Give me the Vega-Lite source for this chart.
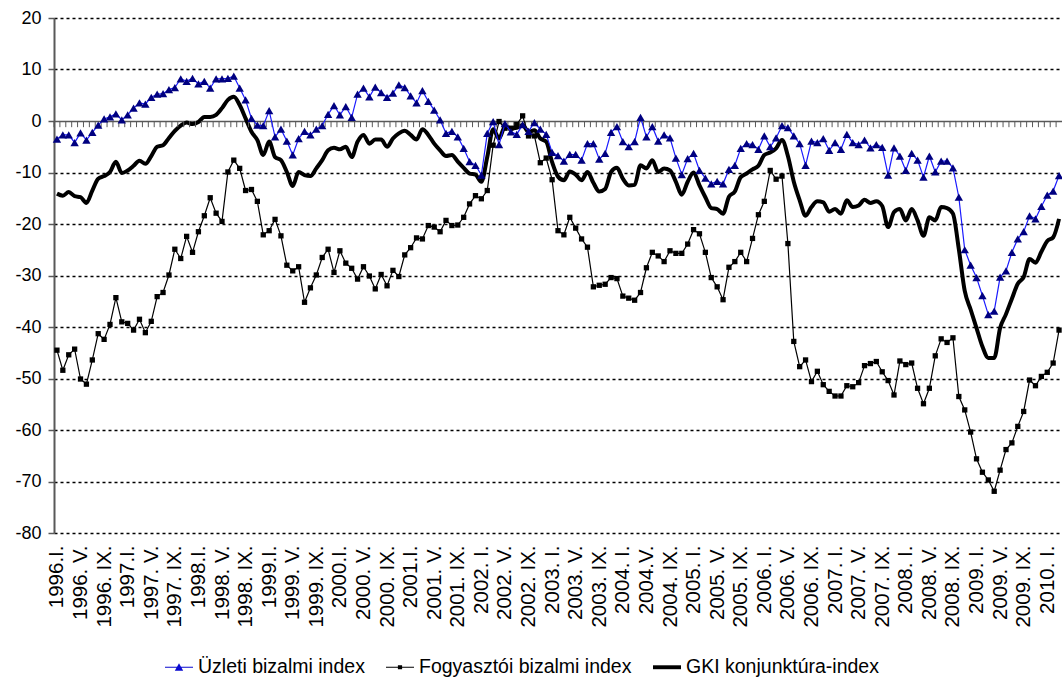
{
  "$schema": "https://vega.github.io/schema/vega-lite/v6.json",
  "width": 1008,
  "height": 515,
  "autosize": {"type": "none"},
  "padding": {"left": 54, "top": 18, "right": 0, "bottom": 149},
  "background": "white",
  "config": {
    "view": {"stroke": null},
    "font": "Liberation Sans",
    "axisY": {"domainColor": "#595959", "domainWidth": 2, "tickColor": "#595959", "tickSize": 6, "tickWidth": 1.5, "labelFont": "Liberation Sans", "labelFontSize": 18, "labelColor": "black", "labelPadding": 7, "title": null, "labelOverlap": false},
    "axisX": {"ticks": false, "tickSize": 0, "domain": false, "grid": false, "labelAngle": -90, "labelFont": "Liberation Sans", "labelFontSize": 20.5, "labelColor": "black", "labelPadding": 12, "labelOverlap": false, "labelBound": false, "title": null}
  },
  "data": {"values": [
    {"d":"1996.I.","u":-3.5,"f":-44.5,"g":-14.1},
    {"d":"1996. II.","u":-2.7,"f":-48.4,"g":-14.5},
    {"d":"1996. III.","u":-2.7,"f":-45.4,"g":-13.8},
    {"d":"1996. IV.","u":-4.2,"f":-44.3,"g":-14.6},
    {"d":"1996. V.","u":-2.3,"f":-50.1,"g":-14.8},
    {"d":"1996. VI.","u":-3.7,"f":-51.1,"g":-15.9},
    {"d":"1996. VII.","u":-2.2,"f":-46.4,"g":-13.5},
    {"d":"1996. VIII.","u":-0.8,"f":-41.3,"g":-11.2},
    {"d":"1996. IX.","u":0.4,"f":-42.4,"g":-10.7},
    {"d":"1996. X.","u":0.8,"f":-39.5,"g":-9.9},
    {"d":"1996. XI.","u":1.4,"f":-34.3,"g":-7.9},
    {"d":"1996. XII.","u":0.2,"f":-39.0,"g":-10.1},
    {"d":"1997.I.","u":1.2,"f":-39.3,"g":-9.6},
    {"d":"1997. II.","u":2.5,"f":-40.6,"g":-8.7},
    {"d":"1997. III.","u":3.5,"f":-38.5,"g":-7.7},
    {"d":"1997. IV.","u":3.3,"f":-41.1,"g":-8.3},
    {"d":"1997. V.","u":4.6,"f":-38.9,"g":-6.8},
    {"d":"1997. VI.","u":5.2,"f":-34.1,"g":-5.0},
    {"d":"1997. VII.","u":5.3,"f":-33.3,"g":-4.7},
    {"d":"1997. VIII.","u":6.1,"f":-29.9,"g":-3.3},
    {"d":"1997. IX.","u":6.5,"f":-24.9,"g":-1.9},
    {"d":"1997. X.","u":8.2,"f":-26.7,"g":-0.9},
    {"d":"1997. XI.","u":7.7,"f":-22.4,"g":-0.3},
    {"d":"1997. XII.","u":8.3,"f":-25.5,"g":-0.6},
    {"d":"1998.I.","u":7.2,"f":-21.5,"g":-0.2},
    {"d":"1998. II.","u":7.7,"f":-18.4,"g":0.8},
    {"d":"1998. III.","u":6.4,"f":-14.9,"g":0.8},
    {"d":"1998. IV.","u":8.2,"f":-17.9,"g":1.2},
    {"d":"1998. V.","u":8.2,"f":-19.5,"g":2.5},
    {"d":"1998. VI.","u":8.3,"f":-9.9,"g":4.1},
    {"d":"1998. VII.","u":8.7,"f":-7.6,"g":4.7},
    {"d":"1998. VIII.","u":6.4,"f":-9.2,"g":3.1},
    {"d":"1998. IX.","u":4.1,"f":-13.5,"g":0.5},
    {"d":"1998. X.","u":0.5,"f":-13.3,"g":-2.1},
    {"d":"1998. XI.","u":-0.8,"f":-15.6,"g":-3.7},
    {"d":"1998. XII.","u":-0.9,"f":-22.1,"g":-6.6},
    {"d":"1999.I.","u":2.0,"f":-21.3,"g":-4.0},
    {"d":"1999. II.","u":-3.1,"f":-19.1,"g":-7.0},
    {"d":"1999. III.","u":-1.6,"f":-22.3,"g":-7.6},
    {"d":"1999. IV.","u":-3.9,"f":-28.0,"g":-9.9},
    {"d":"1999. V.","u":-6.6,"f":-29.1,"g":-12.6},
    {"d":"1999. VI.","u":-3.4,"f":-28.3,"g":-9.9},
    {"d":"1999. VII.","u":-2.0,"f":-35.2,"g":-10.5},
    {"d":"1999. VIII.","u":-2.7,"f":-32.4,"g":-10.7},
    {"d":"1999. IX.","u":-1.6,"f":-29.9,"g":-9.2},
    {"d":"1999. X.","u":-0.9,"f":-26.5,"g":-7.6},
    {"d":"1999. XI.","u":1.3,"f":-24.9,"g":-5.7},
    {"d":"1999. XII.","u":3.0,"f":-29.4,"g":-5.2},
    {"d":"2000.I.","u":1.2,"f":-25.2,"g":-5.5},
    {"d":"2000. II.","u":2.8,"f":-27.6,"g":-5.0},
    {"d":"2000. III.","u":0.7,"f":-28.6,"g":-7.0},
    {"d":"2000. IV.","u":5.2,"f":-30.7,"g":-4.0},
    {"d":"2000. V.","u":6.4,"f":-28.3,"g":-2.7},
    {"d":"2000. VI.","u":4.7,"f":-30.1,"g":-4.4},
    {"d":"2000. VII.","u":6.6,"f":-32.6,"g":-3.6},
    {"d":"2000. VIII.","u":5.5,"f":-29.8,"g":-3.6},
    {"d":"2000. IX.","u":4.6,"f":-32.0,"g":-5.0},
    {"d":"2000. X.","u":5.4,"f":-29.0,"g":-3.4},
    {"d":"2000. XI.","u":7.0,"f":-30.2,"g":-2.4},
    {"d":"2000. XII.","u":6.5,"f":-26.0,"g":-1.9},
    {"d":"2001.I.","u":4.9,"f":-24.6,"g":-2.7},
    {"d":"2001. II.","u":3.5,"f":-22.7,"g":-3.6},
    {"d":"2001. III.","u":5.9,"f":-22.9,"g":-1.6},
    {"d":"2001. IV.","u":3.8,"f":-20.3,"g":-2.7},
    {"d":"2001. V.","u":2.1,"f":-20.6,"g":-4.4},
    {"d":"2001. VI.","u":0.2,"f":-21.5,"g":-5.7},
    {"d":"2001. VII.","u":-2.4,"f":-19.3,"g":-6.8},
    {"d":"2001. VIII.","u":-2.0,"f":-20.3,"g":-6.6},
    {"d":"2001. IX.","u":-3.1,"f":-20.2,"g":-7.9},
    {"d":"2001. X.","u":-5.3,"f":-18.7,"g":-9.1},
    {"d":"2001. XI.","u":-7.9,"f":-16.1,"g":-10.2},
    {"d":"2001. XII.","u":-8.6,"f":-14.5,"g":-10.4},
    {"d":"2002. I.","u":-10.5,"f":-15.1,"g":-11.8},
    {"d":"2002. II.","u":-2.4,"f":-13.5,"g":-7.0},
    {"d":"2002. III.","u":-0.1,"f":-4.7,"g":-1.6},
    {"d":"2002. IV.","u":-4.6,"f":-0.1,"g":-3.4},
    {"d":"2002. V.","u":-0.5,"f":-1.4,"g":-1.1},
    {"d":"2002. VI.","u":-2.1,"f":-1.4,"g":-1.4},
    {"d":"2002. VII.","u":-2.6,"f":-0.7,"g":-1.3},
    {"d":"2002. VIII.","u":-0.7,"f":1.0,"g":-0.8},
    {"d":"2002. IX.","u":-2.0,"f":-2.9,"g":-2.1},
    {"d":"2002. X.","u":-0.3,"f":-2.9,"g":-1.8},
    {"d":"2002. XI.","u":-1.6,"f":-8.1,"g":-3.4},
    {"d":"2002. XII.","u":-2.6,"f":-7.2,"g":-4.0},
    {"d":"2003. I.","u":-6.1,"f":-11.4,"g":-8.0},
    {"d":"2003. II.","u":-6.7,"f":-21.3,"g":-10.8},
    {"d":"2003. III.","u":-7.8,"f":-22.1,"g":-11.5},
    {"d":"2003. IV.","u":-6.5,"f":-18.7,"g":-9.8},
    {"d":"2003. V.","u":-6.5,"f":-20.8,"g":-10.4},
    {"d":"2003. VI.","u":-7.6,"f":-22.9,"g":-11.5},
    {"d":"2003. VII.","u":-4.4,"f":-24.5,"g":-9.9},
    {"d":"2003. VIII.","u":-4.4,"f":-32.2,"g":-12.0},
    {"d":"2003. IX.","u":-7.4,"f":-31.9,"g":-13.7},
    {"d":"2003. X.","u":-6.3,"f":-31.7,"g":-13.2},
    {"d":"2003. XI.","u":-2.2,"f":-30.4,"g":-9.9},
    {"d":"2003. XII.","u":-1.1,"f":-30.6,"g":-9.1},
    {"d":"2004. I.","u":-4.0,"f":-34.0,"g":-11.2},
    {"d":"2004. II.","u":-5.0,"f":-34.4,"g":-12.5},
    {"d":"2004. III.","u":-4.0,"f":-34.8,"g":-12.4},
    {"d":"2004. IV.","u":0.7,"f":-33.3,"g":-8.6},
    {"d":"2004.V.","u":-3.1,"f":-28.5,"g":-9.2},
    {"d":"2004. VI.","u":-1.1,"f":-25.5,"g":-7.6},
    {"d":"2004. VII.","u":-3.9,"f":-26.2,"g":-9.9},
    {"d":"2004. VIII.","u":-2.7,"f":-27.3,"g":-9.2},
    {"d":"2004. IX.","u":-3.3,"f":-25.2,"g":-9.6},
    {"d":"2004. X.","u":-7.2,"f":-25.7,"g":-11.8},
    {"d":"2004. XI.","u":-10.4,"f":-25.7,"g":-14.3},
    {"d":"2004. XII.","u":-7.3,"f":-23.9,"g":-11.8},
    {"d":"2005. I.","u":-6.3,"f":-21.1,"g":-10.0},
    {"d":"2005. II.","u":-9.6,"f":-21.9,"g":-12.5},
    {"d":"2005. III.","u":-11.1,"f":-25.5,"g":-14.8},
    {"d":"2005. IV.","u":-12.2,"f":-30.4,"g":-16.9},
    {"d":"2005. V.","u":-11.7,"f":-32.2,"g":-17.1},
    {"d":"2005. VI.","u":-12.2,"f":-34.7,"g":-18.0},
    {"d":"2005. VII.","u":-9.4,"f":-28.4,"g":-14.7},
    {"d":"2005. VIII.","u":-8.6,"f":-27.3,"g":-13.7},
    {"d":"2005. IX.","u":-5.3,"f":-25.5,"g":-10.9},
    {"d":"2005. X.","u":-4.4,"f":-27.3,"g":-10.2},
    {"d":"2005. XI.","u":-4.6,"f":-22.8,"g":-9.4},
    {"d":"2005. XII.","u":-5.5,"f":-18.2,"g":-8.7},
    {"d":"2006. I.","u":-2.9,"f":-15.6,"g":-6.6},
    {"d":"2006. II.","u":-5.0,"f":-9.6,"g":-6.1},
    {"d":"2006. III.","u":-3.3,"f":-11.3,"g":-5.3},
    {"d":"2006. IV.","u":-0.9,"f":-10.7,"g":-3.7},
    {"d":"2006. V.","u":-1.3,"f":-23.8,"g":-6.8},
    {"d":"2006. VI.","u":-2.9,"f":-42.8,"g":-11.8},
    {"d":"2006. VII.","u":-4.4,"f":-47.7,"g":-15.4},
    {"d":"2006. VIII.","u":-8.6,"f":-46.4,"g":-18.4},
    {"d":"2006. IX.","u":-3.9,"f":-50.6,"g":-16.7},
    {"d":"2006. X.","u":-4.2,"f":-48.6,"g":-15.6},
    {"d":"2006. XI.","u":-3.4,"f":-51.2,"g":-15.8},
    {"d":"2006. XII.","u":-5.7,"f":-52.5,"g":-17.6},
    {"d":"2007. I.","u":-4.2,"f":-53.4,"g":-17.1},
    {"d":"2007. II.","u":-5.5,"f":-53.4,"g":-18.0},
    {"d":"2007. III.","u":-2.6,"f":-51.4,"g":-15.4},
    {"d":"2007. IV.","u":-4.2,"f":-51.6,"g":-16.7},
    {"d":"2007. V.","u":-4.6,"f":-50.8,"g":-16.4},
    {"d":"2007. VI.","u":-3.7,"f":-47.5,"g":-15.3},
    {"d":"2007. VII.","u":-5.2,"f":-47.1,"g":-15.9},
    {"d":"2007. VIII.","u":-4.6,"f":-46.7,"g":-15.6},
    {"d":"2007. IX.","u":-5.1,"f":-48.7,"g":-16.5},
    {"d":"2007. X.","u":-10.5,"f":-50.4,"g":-20.6},
    {"d":"2007. XI.","u":-5.2,"f":-53.2,"g":-17.7},
    {"d":"2007. XII.","u":-6.8,"f":-46.6,"g":-17.1},
    {"d":"2008. I.","u":-9.6,"f":-47.3,"g":-19.3},
    {"d":"2008. II.","u":-6.3,"f":-47.0,"g":-17.1},
    {"d":"2008. III.","u":-7.6,"f":-51.9,"g":-19.3},
    {"d":"2008. IV.","u":-10.9,"f":-54.9,"g":-22.3},
    {"d":"2008. V.","u":-6.8,"f":-51.9,"g":-18.7},
    {"d":"2008. VI.","u":-9.9,"f":-45.6,"g":-19.3},
    {"d":"2008. VII.","u":-7.8,"f":-42.3,"g":-16.7},
    {"d":"2008. VIII.","u":-7.8,"f":-43.0,"g":-16.9},
    {"d":"2008. IX.","u":-9.1,"f":-42.1,"g":-18.0},
    {"d":"2008. X.","u":-14.8,"f":-53.5,"g":-24.9},
    {"d":"2008. XI.","u":-25.0,"f":-56.1,"g":-33.0},
    {"d":"2008. XII.","u":-28.0,"f":-60.4,"g":-36.6},
    {"d":"2009. I.","u":-30.4,"f":-65.6,"g":-40.2},
    {"d":"2009. II.","u":-33.9,"f":-68.2,"g":-43.8},
    {"d":"2009. III.","u":-37.6,"f":-69.7,"g":-46.0},
    {"d":"2009. IV.","u":-36.9,"f":-71.9,"g":-46.0},
    {"d":"2009. V.","u":-30.3,"f":-67.8,"g":-40.2},
    {"d":"2009. VI.","u":-29.1,"f":-63.8,"g":-37.5},
    {"d":"2009. VII.","u":-25.5,"f":-62.5,"g":-34.5},
    {"d":"2009. VIII.","u":-22.9,"f":-59.3,"g":-31.6},
    {"d":"2009. IX.","u":-21.5,"f":-56.4,"g":-30.3},
    {"d":"2009. X.","u":-18.4,"f":-50.3,"g":-26.8},
    {"d":"2009. XI.","u":-19.0,"f":-51.4,"g":-27.5},
    {"d":"2009. XII.","u":-16.6,"f":-49.6,"g":-25.4},
    {"d":"2010. I.","u":-14.4,"f":-48.8,"g":-23.3},
    {"d":"2010. II.","u":-13.6,"f":-47.0,"g":-22.6},
    {"d":"2010. III.","u":-10.6,"f":-40.6,"g":-19.0}
  ]},
  "encoding": {
    "x": {"field": "d", "type": "ordinal", "sort": null, "scale": {"type": "point", "padding": 0.5},
      "axis": {"values": ["1996.I.","1996. V.","1996. IX.","1997.I.","1997. V.","1997. IX.","1998.I.","1998. V.","1998. IX.","1999.I.","1999. V.","1999. IX.","2000.I.","2000. V.","2000. IX.","2001.I.","2001. V.","2001. IX.","2002. I.","2002. V.","2002. IX.","2003. I.","2003. V.","2003. IX.","2004. I.","2004.V.","2004. IX.","2005. I.","2005. V.","2005. IX.","2006. I.","2006. V.","2006. IX.","2007. I.","2007. V.","2007. IX.","2008. I.","2008. V.","2008. IX.","2009. I.","2009. V.","2009. IX.","2010. I."], "title": null}}
  },
  "layer": [
    {
      "mark": {"type": "line", "color": "black", "strokeWidth": 4, "interpolate": "monotone"},
      "encoding": {"y": {"field": "g", "type": "quantitative", "scale": {"domain": [-80, 20], "nice": false},
        "axis": {"values": [-80,-70,-60,-50,-40,-30,-20,-10,0,10,20], "labelExpr": "'' + datum.value", "title": null, "grid": true,
          "gridColor": {"condition": {"test": "datum.value === 0", "value": "#595959"}, "value": "black"},
          "gridDash": {"condition": {"test": "datum.value === 0", "value": [1, 0]}, "value": [3, 3]},
          "gridWidth": {"condition": {"test": "datum.value === 0", "value": 1.5}, "value": 1.3}}}}
    },
    {
      "mark": {"type": "rule", "color": "#595959", "strokeWidth": 1, "xOffset": -2.95},
      "encoding": {"y": {"datum": 0, "type": "quantitative", "scale": {"domain": [-80, 20], "nice": false},
        "axis": {"values": [-80,-70,-60,-50,-40,-30,-20,-10,0,10,20], "labelExpr": "'' + datum.value", "title": null, "grid": true,
          "gridColor": {"condition": {"test": "datum.value === 0", "value": "#595959"}, "value": "black"},
          "gridDash": {"condition": {"test": "datum.value === 0", "value": [1, 0]}, "value": [3, 3]},
          "gridWidth": {"condition": {"test": "datum.value === 0", "value": 1.5}, "value": 1.3}}}, "y2": {"datum": -1.2}}
    },
    {
      "mark": {"type": "line", "color": "black", "strokeWidth": 1.2},
      "encoding": {"y": {"field": "f", "type": "quantitative", "scale": {"domain": [-80, 20], "nice": false},
        "axis": {"values": [-80,-70,-60,-50,-40,-30,-20,-10,0,10,20], "labelExpr": "'' + datum.value", "title": null, "grid": true,
          "gridColor": {"condition": {"test": "datum.value === 0", "value": "#595959"}, "value": "black"},
          "gridDash": {"condition": {"test": "datum.value === 0", "value": [1, 0]}, "value": [3, 3]},
          "gridWidth": {"condition": {"test": "datum.value === 0", "value": 1.5}, "value": 1.3}}}}
    },
    {
      "mark": {"type": "point", "shape": "square", "size": 28, "filled": true, "color": "black", "opacity": 1},
      "encoding": {"y": {"field": "f", "type": "quantitative", "scale": {"domain": [-80, 20], "nice": false},
        "axis": {"values": [-80,-70,-60,-50,-40,-30,-20,-10,0,10,20], "labelExpr": "'' + datum.value", "title": null, "grid": true,
          "gridColor": {"condition": {"test": "datum.value === 0", "value": "#595959"}, "value": "black"},
          "gridDash": {"condition": {"test": "datum.value === 0", "value": [1, 0]}, "value": [3, 3]},
          "gridWidth": {"condition": {"test": "datum.value === 0", "value": 1.5}, "value": 1.3}}}}
    },
    {
      "mark": {"type": "line", "color": "#1a1aff", "strokeWidth": 1.2},
      "encoding": {"y": {"field": "u", "type": "quantitative", "scale": {"domain": [-80, 20], "nice": false},
        "axis": {"values": [-80,-70,-60,-50,-40,-30,-20,-10,0,10,20], "labelExpr": "'' + datum.value", "title": null, "grid": true,
          "gridColor": {"condition": {"test": "datum.value === 0", "value": "#595959"}, "value": "black"},
          "gridDash": {"condition": {"test": "datum.value === 0", "value": [1, 0]}, "value": [3, 3]},
          "gridWidth": {"condition": {"test": "datum.value === 0", "value": 1.5}, "value": 1.3}}}}
    },
    {
      "mark": {"type": "point", "shape": "triangle-up", "size": 70, "filled": true, "color": "#000080", "opacity": 1},
      "encoding": {"y": {"field": "u", "type": "quantitative", "scale": {"domain": [-80, 20], "nice": false},
        "axis": {"values": [-80,-70,-60,-50,-40,-30,-20,-10,0,10,20], "labelExpr": "'' + datum.value", "title": null, "grid": true,
          "gridColor": {"condition": {"test": "datum.value === 0", "value": "#595959"}, "value": "black"},
          "gridDash": {"condition": {"test": "datum.value === 0", "value": [1, 0]}, "value": [3, 3]},
          "gridWidth": {"condition": {"test": "datum.value === 0", "value": 1.5}, "value": 1.3}}}}
    },
    {
      "transform": [{"filter": "false"}],
      "mark": {"type": "point", "filled": true, "opacity": 1},
      "encoding": {
        "shape": {"field": "s", "type": "nominal",
          "scale": {"domain": ["Üzleti bizalmi index", "Fogyasztói bizalmi index", "GKI konjunktúra-index"],
            "range": ["M-1,-0.04H1V0.04H-1Z M-0.3,0.25L0,-0.28L0.3,0.25Z", "M-1,-0.04H1V0.04H-1Z M-0.15,-0.15H0.15V0.15H-0.15Z", "M-1,-0.14H1V0.14H-1Z"]},
          "legend": {"title": null, "orient": "none", "legendX": 111, "legendY": 635, "direction": "horizontal", "symbolSize": 784, "symbolStrokeWidth": 0, "labelFont": "Liberation Sans", "labelFontSize": 19.5, "labelColor": "black", "labelOffset": 5, "columnPadding": 21, "padding": 0, "labelLimit": 400}},
        "color": {"field": "s", "type": "nominal",
          "scale": {"domain": ["Üzleti bizalmi index", "Fogyasztói bizalmi index", "GKI konjunktúra-index"], "range": ["#0a0ad0", "black", "black"]},
          "legend": {"title": null, "orient": "none", "legendX": 111, "legendY": 635, "direction": "horizontal", "symbolSize": 784, "symbolStrokeWidth": 0, "labelFont": "Liberation Sans", "labelFontSize": 19.5, "labelColor": "black", "labelOffset": 5, "columnPadding": 21, "padding": 0, "labelLimit": 400}}
      }
    }
  ]
}
